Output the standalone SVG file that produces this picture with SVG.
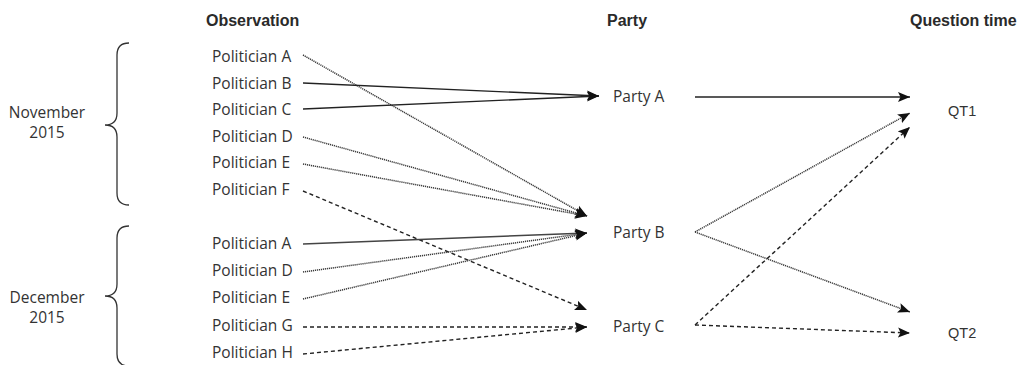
<svg xmlns="http://www.w3.org/2000/svg" width="1021" height="365" viewBox="0 0 1021 365">
<style>
.hdr{font-family:"Liberation Sans",Arial,sans-serif;font-weight:bold;font-size:16px;fill:#2a2a2a}
.lbl{font-family:"Open Sans","Noto Sans",sans-serif;font-size:15.5px;fill:#333}
.qt{font-family:"Liberation Sans",Arial,sans-serif;font-size:14.5px;fill:#333}
.brace{fill:none;stroke:#333;stroke-width:1.3}
.solid{fill:none;stroke:#222;stroke-width:1.4;marker-end:url(#arr)}
.dot{fill:none;stroke:#3a3a3a;stroke-width:1.5;stroke-dasharray:1.2 0.8;marker-end:url(#arr)}
.dash{fill:none;stroke:#222;stroke-width:1.4;stroke-dasharray:4 3;marker-end:url(#arr)}
</style>
<defs>
<marker id="arr" markerUnits="userSpaceOnUse" markerWidth="13" markerHeight="11" refX="12" refY="5" orient="auto" viewBox="0 0 13 10">
<path d="M0,0 L12,5 L0,10 L2.5,5 Z" fill="#111"/>
</marker>
</defs>
<rect width="1021" height="365" fill="#fff"/>

<g id="headers">
<text class="hdr" x="206" y="26">Observation</text>
<text class="hdr" x="607" y="26">Party</text>
<text class="hdr" x="910" y="26">Question time</text>
</g>

<g id="brace-november">
<path class="brace" d="M129,43 Q117,43 117,55 L117,113 Q117,125 105,125 Q117,125 117,137 L117,193 Q117,205 129,205"/>
<text class="lbl" x="47" y="118" text-anchor="middle">November</text>
<text class="lbl" x="47" y="138" text-anchor="middle">2015</text>
</g>
<g id="brace-december">
<path class="brace" d="M129,226 Q117,226 117,238 L117,284 Q117,296 105,296 Q117,296 117,308 L117,354 Q117,366 129,366"/>
<text class="lbl" x="47" y="303" text-anchor="middle">December</text>
<text class="lbl" x="47" y="323" text-anchor="middle">2015</text>
</g>

<g id="nov-politician-a"><text class="lbl" x="212" y="62">Politician A</text></g>
<g id="nov-politician-b"><text class="lbl" x="212" y="89">Politician B</text></g>
<g id="nov-politician-c"><text class="lbl" x="212" y="115">Politician C</text></g>
<g id="nov-politician-d"><text class="lbl" x="212" y="142">Politician D</text></g>
<g id="nov-politician-e"><text class="lbl" x="212" y="168">Politician E</text></g>
<g id="nov-politician-f"><text class="lbl" x="212" y="195">Politician F</text></g>
<g id="dec-politician-a"><text class="lbl" x="212" y="249">Politician A</text></g>
<g id="dec-politician-d"><text class="lbl" x="212" y="276">Politician D</text></g>
<g id="dec-politician-e"><text class="lbl" x="212" y="303">Politician E</text></g>
<g id="dec-politician-g"><text class="lbl" x="212" y="331">Politician G</text></g>
<g id="dec-politician-h"><text class="lbl" x="212" y="358">Politician H</text></g>

<g id="party-a"><text class="lbl" x="613" y="102">Party A</text></g>
<g id="party-b"><text class="lbl" x="613" y="238">Party B</text></g>
<g id="party-c"><text class="lbl" x="613" y="332">Party C</text></g>

<g id="qt1"><text class="qt" x="948" y="116">QT1</text></g>
<g id="qt2"><text class="qt" x="948" y="338">QT2</text></g>

<g id="connectors">
<line class="dot" x1="303" y1="55" x2="587" y2="216"/>
<line class="solid" x1="303" y1="83" x2="599" y2="96"/>
<line class="solid" x1="303" y1="109" x2="599" y2="96"/>
<line class="dot" x1="303" y1="137" x2="587" y2="216"/>
<line class="dot" x1="303" y1="164" x2="587" y2="216"/>
<line class="dash" x1="303" y1="191" x2="587" y2="310"/>
<line class="solid" style="stroke:#444" x1="303" y1="244" x2="587" y2="233"/>
<line class="dot" x1="303" y1="272" x2="587" y2="233"/>
<line class="dot" x1="303" y1="299" x2="587" y2="233"/>
<line class="dash" x1="303" y1="327" x2="587" y2="327"/>
<line class="dash" x1="303" y1="354" x2="587" y2="327"/>
<line class="solid" x1="695" y1="97" x2="910" y2="97"/>
<line class="dot" x1="695" y1="232" x2="910" y2="113"/>
<line class="dot" x1="695" y1="232" x2="910" y2="312"/>
<line class="dash" x1="695" y1="325" x2="910" y2="127"/>
<line class="dash" x1="695" y1="325" x2="910" y2="333"/>
</g>
</svg>
